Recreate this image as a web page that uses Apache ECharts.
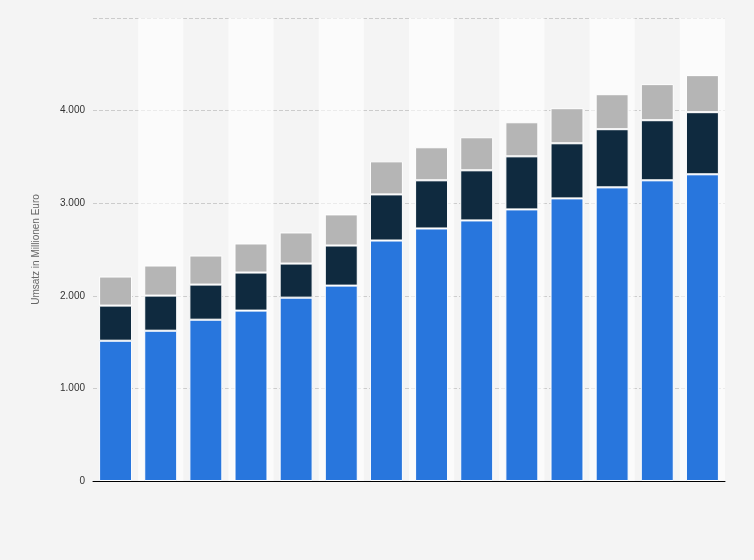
<!DOCTYPE html>
<html><head><meta charset="utf-8">
<script src="https://cdn.jsdelivr.net/npm/echarts@6/dist/echarts.min.js"></script>
<style>html,body{margin:0;background:#f4f4f4}#c{width:754px;height:560px}</style>
</head><body><div id="c"></div>
<script>
var categories = ['1','2','3','4','5','6','7','8','9','10','11','12','13','14'];
var blue = [1515, 1623, 1742, 1840, 1980, 2110, 2597, 2727, 2814, 2933, 3052, 3171, 3247, 3312];
var dark = [379, 379, 379, 411, 368, 433, 498, 520, 541, 573, 595, 628, 649, 671];
var grey = [314, 325, 314, 314, 336, 336, 357, 357, 357, 368, 379, 378, 390, 400];

var myChart = echarts.init(document.getElementById('c'));
function seg(data, color) {
    return {
        type: 'bar', stack: 'a', data: data, barCategoryGap: '27%',
        itemStyle: {color: color, borderColor: '#fff', borderWidth: 1}
    };
}
var option = {
    backgroundColor: '#f4f4f4',
    animation: false,
    grid: {left: 93, right: 29, top: 18, bottom: 79},
    xAxis: {
        type: 'category', data: categories,
        axisLabel: {show: false}, axisTick: {show: false},
        axisLine: {lineStyle: {color: '#000'}},
        splitArea: {show: true, areaStyle: {color: ['rgba(0,0,0,0)', 'rgba(255,255,255,0.6)']}}
    },
    yAxis: {
        type: 'value', min: 0, max: 5000, interval: 1000,
        name: 'Umsatz in Millionen Euro', nameLocation: 'middle', nameGap: 52,
        nameTextStyle: {color: '#666', fontSize: 10, fontFamily: 'Arial'},
        axisLabel: {
            color: '#333', fontSize: 10, fontFamily: 'Arial',
            formatter: function (v) { return v === 5000 ? '' : v === 0 ? '0' : (v / 1000) + '.000'; }
        },
        splitLine: {lineStyle: {color: '#ccc', type: 'dashed'}}
    },
    series: [seg(blue, '#2876dd'), seg(dark, '#0f2a3f'), seg(grey, '#b5b5b5')]
};
myChart.setOption(option);
</script></body></html>
